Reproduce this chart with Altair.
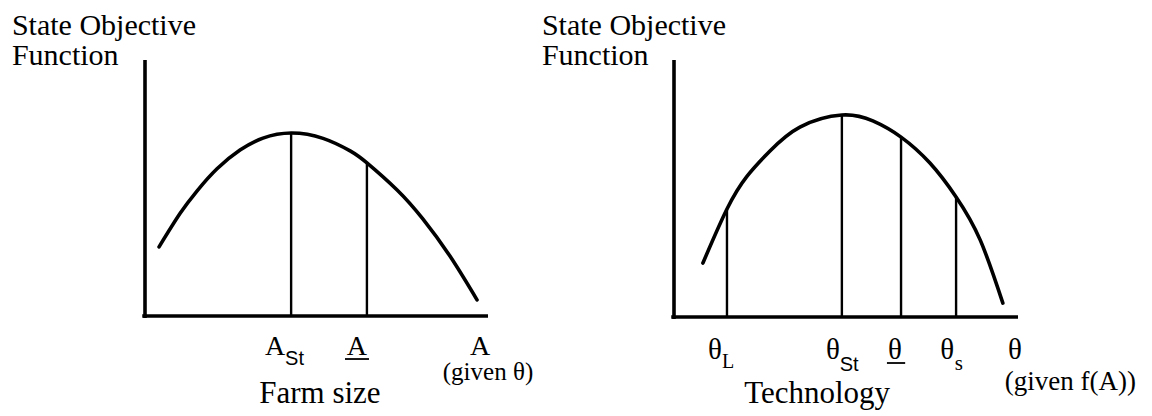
import altair as alt
import pandas as pd

# ---------------- data (panel units: axis origin = 0, axis ends = 10) ----------------
# Left panel: state objective vs farm size (given theta)
farm_x = [0.41, 1.02, 1.52, 2.10, 2.77, 3.44, 4.26, 5.19, 5.98, 6.47, 7.35, 8.10, 8.89, 9.68]
farm_y = [2.70, 4.00, 4.89, 5.75, 6.48, 6.95, 7.15, 6.94, 6.45, 5.98, 4.92, 3.79, 2.34, 0.63]
farm_drop_x = [4.26, 6.47]
farm_drop_top = [7.15, 5.98]

# Right panel: state objective vs technology (given f(A))
tech_x = [0.84, 1.54, 2.12, 2.79, 3.66, 4.88, 5.78, 6.60, 7.44, 8.20, 8.90, 9.56]
tech_y = [2.10, 4.20, 5.47, 6.46, 7.39, 7.86, 7.63, 7.00, 5.99, 4.67, 3.00, 0.54]
tech_drop_x = [1.54, 4.88, 6.60, 8.20]
tech_drop_top = [4.20, 7.86, 7.00, 4.67]

# Text labels: text, x, y, font size, alignment, family ("serif"/"sans")
farm_lab_text = ["State Objective", "Function", "A", "St", "A", "A", "(given θ)", "Farm size"]
farm_lab_x = [-3.88, -3.88, 3.79, 4.36, 6.18, 9.77, 10.0, 5.10]
farm_lab_y = [10.98, 9.81, -1.52, -1.91, -1.52, -1.52, -2.50, -3.40]
farm_lab_size = [30, 30, 28, 20, 28, 28, 25, 31]
farm_lab_align = ["left", "left", "center", "center", "center", "center", "center", "center"]
farm_lab_family = ["serif", "serif", "serif", "sans", "serif", "serif", "serif", "serif"]
farm_under_x = [5.83]
farm_under_x2 = [6.53]
farm_under_y = [-1.68]

tech_lab_text = ["State Objective", "Function", "θ", "L", "θ", "St", "θ", "θ", "s", "θ",
                 "(given f(A))", "Technology"]
tech_lab_x = [-3.84, -3.84, 1.19, 1.57, 4.62, 5.09, 6.42, 7.94, 8.28, 9.91, 11.52, 4.16]
tech_lab_y = [10.97, 9.81, -1.63, -1.98, -1.63, -2.10, -1.63, -1.63, -2.06, -1.63, -2.84, -3.35]
tech_lab_size = [30, 30, 29, 20, 29, 20, 29, 29, 21, 29, 27, 31]
tech_lab_align = ["left", "left", "center", "center", "center", "center", "center", "center",
                  "center", "center", "center", "center"]
tech_lab_family = ["serif", "serif", "serif", "serif", "serif", "sans", "serif", "serif", "serif",
                   "serif", "serif", "serif"]
tech_under_x = [6.19]
tech_under_x2 = [6.72]
tech_under_y = [-1.79]

# ---------------- layout ----------------
W, H, M = 1136, 400, 8
FONTS = {"serif": "Liberation Serif", "sans": "Liberation Sans"}


def scales(origin, unit):
    ox, oy = origin
    ux, uy = unit
    xs = alt.Scale(domain=[(M - ox) / ux, (M + W - ox) / ux], nice=False, zero=False)
    ys = alt.Scale(domain=[(oy - (M + H)) / uy, (oy - M) / uy], nice=False, zero=False)
    return xs, ys


def panel(cx, cy, dx, dtop, lt, lx, ly, ls, la, lf, ux1, ux2, uy, xs, ys):
    X = lambda f: alt.X(f, type="quantitative", scale=xs, axis=None)
    Y = lambda f: alt.Y(f, type="quantitative", scale=ys, axis=None)
    axes = pd.DataFrame({"x": [0.0, -0.08], "y": [-0.08, 0.0], "x2": [0.0, 10.0], "y2": [10.0, 0.0]})
    axis_layer = alt.Chart(axes).mark_rule(color="black", strokeWidth=3.6).encode(
        x=X("x"), y=Y("y"), x2="x2", y2="y2")
    curve = alt.Chart(pd.DataFrame({"x": cx, "y": cy})).mark_line(
        color="black", strokeWidth=3.6, interpolate="natural", strokeCap="round").encode(
        x=X("x"), y=Y("y"), order="x:Q")
    drops = alt.Chart(pd.DataFrame({"x": dx, "y": [0.0] * len(dx), "y2": dtop})).mark_rule(
        color="black", strokeWidth=2.4).encode(x=X("x"), y=Y("y"), y2="y2")
    text_layers = []
    for t, x, y, s, a, f in zip(lt, lx, ly, ls, la, lf):
        text_layers.append(
            alt.Chart(pd.DataFrame({"t": [t], "x": [x], "y": [y]})).mark_text(
                font=FONTS[f], fontSize=s, fontWeight="normal", fontStyle="normal",
                color="black", align=a, baseline="alphabetic").encode(
                x=X("x"), y=Y("y"), text="t:N"))
    under = alt.Chart(pd.DataFrame({"x": ux1, "x2": ux2, "y": uy})).mark_rule(
        color="black", strokeWidth=1.8).encode(x=X("x"), x2="x2", y=Y("y"))
    return alt.layer(axis_layer, curve, drops, *text_layers, under)


lxs, lys = scales((145, 316), (34.3, 25.6))
rxs, rys = scales((674, 317), (34.4, 25.7))

left = panel(farm_x, farm_y, farm_drop_x, farm_drop_top, farm_lab_text, farm_lab_x, farm_lab_y,
             farm_lab_size, farm_lab_align, farm_lab_family,
             farm_under_x, farm_under_x2, farm_under_y, lxs, lys)
right = panel(tech_x, tech_y, tech_drop_x, tech_drop_top, tech_lab_text, tech_lab_x, tech_lab_y,
              tech_lab_size, tech_lab_align, tech_lab_family,
              tech_under_x, tech_under_x2, tech_under_y, rxs, rys)

chart = alt.layer(left, right).resolve_scale(x="independent", y="independent").properties(
    width=W, height=H, padding=0, background="white"
).configure(font="Liberation Serif").configure_view(stroke=None)

chart.save("out.html", embed_options={"renderer": "svg", "actions": False})
